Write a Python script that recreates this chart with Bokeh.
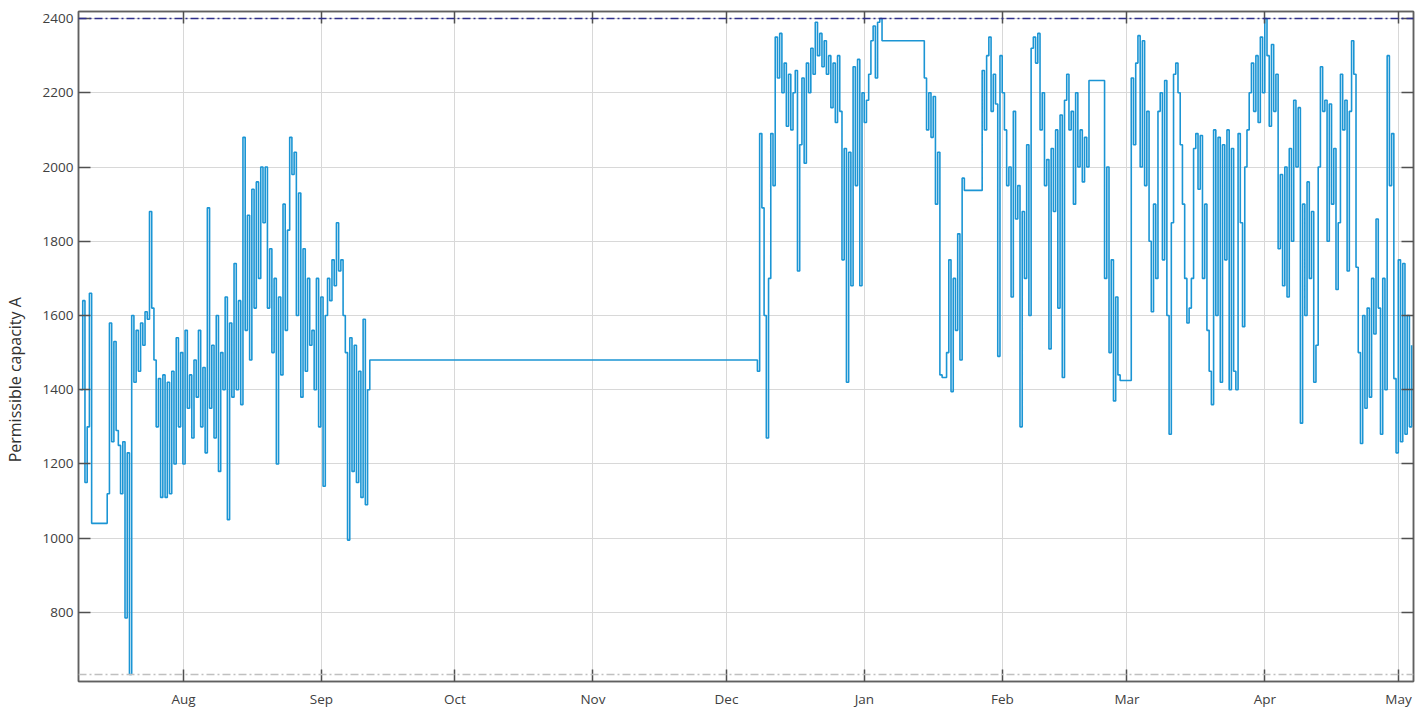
import pandas as pd
from bokeh.plotting import figure
from bokeh.models import (Range1d, FixedTicker, DatetimeAxis, LinearAxis, Span,
                          DatetimeTickFormatter)
from bokeh.embed import file_html
from bokeh.resources import INLINE

# ---------------- data ----------------
seg1_start = "2018-07-08 20:40"
seg2_start = "2018-12-07 23:00"
step_hours = 12

seg1_values = [
    1400, 1640, 1150, 1300, 1660,
    1040, 1040, 1040, 1040, 1040, 1040, 1040,
    1120, 1580, 1260, 1530, 1290, 1250, 1120, 1260, 785, 1230,
    633, 1600, 1420, 1560, 1450, 1580, 1520, 1610, 1590, 1880,
    1620, 1480, 1300, 1430, 1110, 1440, 1110, 1420, 1120, 1450,
    1200, 1540, 1300, 1500, 1200, 1560, 1350, 1440, 1270, 1480,
    1380, 1560, 1300, 1460, 1230, 1890, 1350, 1520, 1270, 1600,
    1180, 1500, 1400, 1650, 1050, 1580, 1380, 1740, 1400, 1640,
    1360, 2080, 1560, 1870, 1480, 1940, 1620, 1960, 1700, 2000,
    1850, 2000, 1620, 1780, 1500, 1700, 1200, 1650, 1440, 1900,
    1560, 1830, 2080, 1980, 2040, 1600, 1930, 1380, 1780, 1450,
    1700, 1520, 1560, 1400, 1700, 1300, 1650, 1140, 1600, 1700,
    1640, 1750, 1680, 1850, 1720, 1750, 1600, 1500, 995, 1540,
    1180, 1520, 1150, 1450, 1110, 1590, 1090, 1400,
]
plateau_value = 1480

seg2_values = [
    1450, 2090, 1890, 1600, 1270, 1700, 2090, 1950, 2350, 2240,
    2360, 2200, 2280, 2110, 2250, 2100, 2200, 2260, 1720, 2060,
    2240, 2010, 2280, 2200, 2320, 2250, 2390, 2300, 2360, 2270,
    2340, 2250, 2300, 2160, 2280, 2120, 2300, 2150, 1750, 2050,
    1420, 2040, 1680, 2270, 1950, 2290, 1680, 2200, 2120, 2180,
    2250, 2340, 2380, 2240, 2390, 2400,
    2340, 2340, 2340, 2340, 2340, 2340, 2340, 2340, 2340, 2340,
    2340, 2340, 2340, 2340, 2340, 2340, 2340, 2340, 2340,
    2240, 2100, 2200, 2080, 2190, 1900, 2040, 1440, 1433, 1433,
    1500, 1750, 1395, 1700, 1560, 1820, 1480, 1970,
    1937, 1937, 1937, 1937, 1937, 1937, 1937, 1937,
    2260, 2100, 2300, 2350, 2150, 2250, 2170, 1490, 2300, 2200,
    2100, 1950, 2000, 1650, 2150, 1860, 1950, 1300, 1880, 1700,
    2060, 1600, 2320, 2350, 2280, 2360, 2100, 2200, 1950, 2020,
    1510, 2050, 1880, 2100, 1620, 2140, 1433, 2180, 2250, 2100,
    2150, 1900, 2200, 2000, 2100, 1960, 2080, 2000, 2233,
    2233, 2233, 2233, 2233, 2233, 2233,
    1700, 2000, 1500, 1750, 1370, 1650, 1440,
    1425, 1425, 1425, 1425, 1425,
    2240, 2060, 2280, 2354, 2000, 2340, 1950, 2150, 1800, 1610,
    1900, 1700, 2150, 2200, 1750, 2233, 1600, 1280, 1850, 2250,
    2280, 2200, 2060, 1900, 1700, 1580, 1620, 1700, 2050, 2090,
    1940, 2085, 1700, 1900, 1560, 1450, 1360, 2100, 1600, 2080,
    1420, 2060, 1750, 2100, 1400, 2050, 1450, 1400, 2090, 1850,
    1570, 2000, 2100, 2200, 2280, 2150, 2300, 2120, 2350, 2200,
    2400, 2300, 2110, 2330, 2150, 2250, 1780, 1980, 1680, 2000,
    1650, 2050, 1800, 2180, 2000, 2160, 1310, 1900, 1600, 1960,
    1700, 1880, 1420, 1520, 2000, 2270, 2150, 2180, 1800, 2170,
    1900, 2050, 1670, 1850, 2250, 2100, 2180, 1720, 2150, 2340,
    2250, 1730, 1500, 1255, 1600, 1350, 1620, 1380, 1700, 1550,
    1860, 1620, 1280, 1700, 1400, 2300, 1950, 2090, 1430, 1230,
    1750, 1260, 1740, 1280, 1600, 1300, 1520,
]

upper_limit = 2400
lower_limit = 633

month_starts = ["2018-08-01", "2018-09-01", "2018-10-01", "2018-11-01",
                "2018-12-01", "2019-01-01", "2019-02-01", "2019-03-01",
                "2019-04-01", "2019-05-01"]
y_ticks = [800, 1000, 1200, 1400, 1600, 1800, 2000, 2200, 2400]
y_label = "Permissible capacity A"

x_start = "2018-07-08 09:50"
x_end = "2019-05-04 09:00"
y_start, y_end = 614, 2419

# ---------------- build series ----------------
t1 = list(pd.date_range(seg1_start, periods=len(seg1_values), freq=f"{step_hours}h"))
t_plateau = t1[-1] + pd.Timedelta(hours=step_hours)
t2 = list(pd.date_range(seg2_start, periods=len(seg2_values), freq=f"{step_hours}h"))
times = t1 + [t_plateau] + t2
vals = seg1_values + [plateau_value] + seg2_values

FONT = "Open Sans"
LINE = "#1b95d4"

p = figure(
    x_axis_type="datetime",
    frame_width=1335, frame_height=670,
    x_range=Range1d(pd.Timestamp(x_start), pd.Timestamp(x_end)),
    y_range=Range1d(y_start, y_end),
    output_backend="svg", toolbar_location=None,
    min_border_left=78, min_border_top=11, min_border_right=6, min_border_bottom=20,
    background_fill_color="white", border_fill_color="white",
)

month_ticks = [pd.Timestamp(m).value // 10**6 for m in month_starts]
xticker = FixedTicker(ticks=month_ticks)
yticker = FixedTicker(ticks=y_ticks)
fmt = DatetimeTickFormatter(days="%b", months="%b", years="%b", hours="%b")

# grid
p.xgrid.ticker = xticker
p.ygrid.ticker = yticker
p.grid.grid_line_color = "#d8d8d8"
p.grid.grid_line_width = 1

# axes
for ax in [p.xaxis[0], p.yaxis[0]]:
    ax.axis_line_color = "#606060"
    ax.axis_line_width = 1.5
    ax.major_tick_in = 12
    ax.major_tick_out = 0
    ax.major_tick_line_color = "#505050"
    ax.major_tick_line_width = 1.5
    ax.minor_tick_line_color = None
    ax.major_label_text_font = FONT
    ax.major_label_text_font_size = "13.5px"
    ax.major_label_text_color = "#404040"

p.xaxis[0].ticker = xticker
p.xaxis[0].formatter = fmt
p.xaxis[0].major_label_standoff = 8
p.yaxis[0].ticker = yticker
p.yaxis[0].major_label_standoff = 5
# trailing no-break spaces shift the rotated label downwards, as in the reference
p.yaxis[0].axis_label = y_label + "\u00a0" * 16
p.yaxis[0].axis_label_text_font = FONT
p.yaxis[0].axis_label_text_font_size = "16px"
p.yaxis[0].axis_label_text_font_style = "normal"
p.yaxis[0].axis_label_text_color = "#303030"
p.yaxis[0].axis_label_standoff = 14

top = DatetimeAxis(ticker=xticker, formatter=fmt)
right = LinearAxis(ticker=yticker)
for ax in [top, right]:
    ax.axis_line_color = "#606060"
    ax.axis_line_width = 1.5
    ax.major_tick_in = 12
    ax.major_tick_out = 0
    ax.major_tick_line_color = "#505050"
    ax.major_tick_line_width = 1.5
    ax.minor_tick_line_color = None
    ax.major_label_text_font_size = "1px"
    ax.major_label_text_color = None
    ax.major_label_standoff = 0
p.add_layout(top, "above")
p.add_layout(right, "right")

p.outline_line_color = "#606060"
p.outline_line_width = 1.5

# limit lines
p.add_layout(Span(location=upper_limit, dimension="width", line_color="#2e2e8a",
                  line_width=1.6, line_dash="8 3 2 3"))
p.add_layout(Span(location=lower_limit, dimension="width", line_color="#c0c0c0",
                  line_width=1.4, line_dash="8 3 2 3"))

p.step(times, vals, mode="after", line_color=LINE, line_width=1.6)

open("out.html", "w").write(file_html(p, INLINE))
